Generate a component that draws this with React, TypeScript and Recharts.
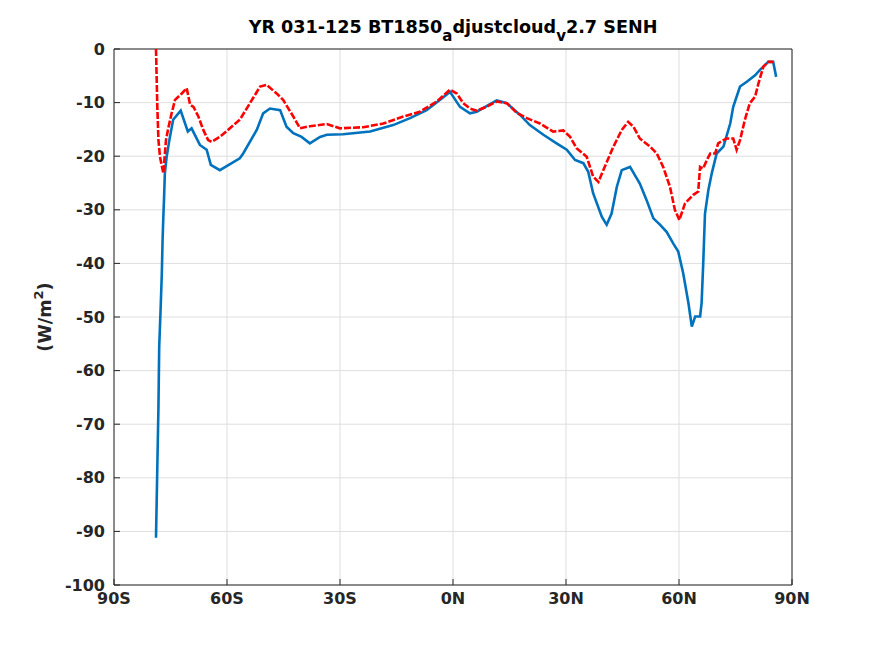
import { CartesianGrid, Line, LineChart, ReferenceLine, XAxis, YAxis } from "recharts";

// latitudes (deg, S negative) and values (W/m2)
const blueLat = [
  -78.85, -78.5, -78.2, -78.0, -77.6, -77.3, -77.1, -76.9, -76.7, -76.5, -76.0, -75.3, -74.3,
  -72.3, -70.4, -69.4, -67.2, -65.4, -64.3, -61.9, -56.6, -55.7, -52.1, -50.4, -48.6, -45.9,
  -44.2, -42.4, -40.2, -38.0, -35.3, -33.5, -29.2, -22.0, -15.9, -11.4, -7.0, -3.5, -0.8, 1.86,
  4.5, 6.3, 11.6, 14.3, 17.8, 20.4, 24.0, 27.5, 30.2, 32.4, 34.6, 35.9, 37.2, 39.5, 40.8, 42.1,
  43.5, 44.8, 47.0, 49.6, 51.4, 53.2, 55.0, 56.7, 58.5, 59.8, 61.1, 62.5, 63.4, 64.3, 65.6, 66.0,
  66.4, 66.9, 67.8, 68.7, 70.0, 71.8, 73.6, 74.4, 76.2, 78.0, 80.2, 81.5, 83.7, 85.0, 85.8,
];
const blueVal = [
  -91.2, -78, -66.8, -55.6, -48, -41.8, -35.6, -31.3, -27.6, -23.2, -20, -17, -13.2,
  -11.5, -15.4, -14.8, -17.9, -18.8, -21.6, -22.6, -20.4, -19.5, -15.1, -12.0, -11.1, -11.4,
  -14.5, -15.7, -16.4, -17.6, -16.4, -16.0, -15.9, -15.4, -14.2, -12.9, -11.4, -9.5, -8.0, -10.8,
  -12.0, -11.7, -9.6, -10.1, -12.3, -14.2, -16.0, -17.6, -18.8, -20.7, -21.3, -22.9, -26.9, -31.3, -32.8, -30.7,
  -25.7, -22.6, -22.0, -25.1, -28.2, -31.6, -32.8, -34.1, -36.3, -37.8, -41.8, -47.4, -51.8, -49.9, -49.9, -47.4,
  -40.6, -30.7, -26.3, -23.2, -19.5, -18.2, -13.9, -10.8, -7.0, -6.1, -4.9, -3.9, -2.4, -2.4, -5.2,
];

const redLat = [
  -78.85, -78.5, -78.2, -77.8, -76.9, -76.2, -75.6, -74.7, -73.8, -72.0, -70.7, -69.8, -68.9,
  -67.6, -66.3, -65.0, -64.1, -61.9, -56.6, -53.9, -51.2, -49.5, -46.8, -45.1, -42.4, -40.6,
  -38.0, -33.5, -30.0, -23.8, -18.5, -13.2, -8.8, -4.3, -0.8, 1.0, 2.7, 4.5, 6.3, 8.9, 11.6,
  14.3, 16.9, 19.6, 23.1, 26.6, 29.3, 31.1, 32.8, 35.5, 37.2, 38.6, 39.9, 42.6, 44.8, 46.5,
  47.9, 49.6, 52.3, 54.1, 55.8, 57.6, 58.9, 60.1, 61.6, 63.8, 65.1, 65.6, 66.4, 67.4, 68.3,
  69.6, 70.4, 71.8, 72.7, 74.4, 75.3, 76.2, 77.5, 78.8, 80.2, 81.1, 82.4, 83.7, 85.0,
];
const redVal = [
  0, -10.8, -17, -20.1, -23.2, -17, -14.8, -12.0, -9.5, -8.3, -7.3, -10.4, -10.8,
  -12.6, -15.1, -17.0, -17.3, -16.4, -13.2, -10.1, -7.0, -6.7, -8.3, -9.5, -12.6, -14.8,
  -14.4, -14.0, -14.8, -14.6, -13.9, -12.6, -11.7, -9.8, -7.6, -8.3, -10.1, -11.1, -11.5, -10.8, -9.8,
  -10.1, -11.9, -12.9, -13.9, -15.4, -15.2, -16.4, -18.5, -20.1, -23.8, -24.8, -22.6, -18.2, -15.1, -13.6,
  -14.5, -16.7, -18.2, -19.5, -22.0, -25.7, -30.0, -31.9, -28.8, -27.2, -26.6, -22.0, -22.3, -20.7, -19.5,
  -19.5, -17.6, -17.0, -16.7, -16.7, -18.8, -17.0, -13.2, -10.1, -8.9, -6.4, -3.3, -2.4, -2.4,
];

const xTicks = [-90, -60, -30, 0, 30, 60, 90];
const xTickLabels = ["90S", "60S", "30S", "0N", "30N", "60N", "90N"];
const yTicks = [0, -10, -20, -30, -40, -50, -60, -70, -80, -90, -100];

const blueData = blueLat.map((lat, i) => ({ lat, v: blueVal[i] }));
const redData = redLat.map((lat, i) => ({ lat, v: redVal[i] }));

const font = "'DejaVu Sans', sans-serif";
const ink = "#262626";
const tickStyle = { fill: ink, fontSize: 16, fontWeight: 700, fontFamily: font };
const subStyle = { fontSize: 15, verticalAlign: "baseline", position: "relative" as const, top: 8 };

export default function App() {
  return (
    <div style={{ position: "absolute", left: 0, top: 0, width: 875, height: 656, background: "#fff" }}>
      <LineChart
        width={875}
        height={656}
        margin={{ top: 49, right: 83, bottom: 41, left: 54 }}
      >
        <CartesianGrid stroke="#dedede" strokeWidth={1} />
        <XAxis
          type="number"
          dataKey="lat"
          domain={[-90, 90]}
          ticks={xTicks}
          allowDuplicatedCategory={false}
          tickFormatter={(v) => xTickLabels[xTicks.indexOf(Number(v))] ?? ""}
          height={30}
          stroke={ink}
          tickSize={-6}
          tickMargin={14}
          tick={tickStyle}
          interval={0}
        />
        <YAxis
          type="number"
          domain={[-100, 0]}
          ticks={yTicks}
          width={60}
          stroke={ink}
          tickSize={-6}
          tickMargin={15}
          tick={tickStyle}
          interval={0}
        />
        <ReferenceLine x={90} stroke={ink} strokeWidth={1} />
        <ReferenceLine y={0} stroke={ink} strokeWidth={1} />
        <Line
          data={blueData}
          dataKey="v"
          type="linear"
          stroke="#0072BD"
          strokeWidth={2.6}
          dot={false}
          isAnimationActive={false}
        />
        <Line
          data={redData}
          dataKey="v"
          type="linear"
          stroke="#FF0000"
          strokeWidth={2.6}
          strokeDasharray="7 2"
          dot={false}
          isAnimationActive={false}
        />
      </LineChart>
      <div
        style={{
          position: "absolute",
          left: 114,
          width: 678,
          top: 17,
          lineHeight: "20px",
          textAlign: "center",
          fontFamily: font,
          fontWeight: 700,
          fontSize: 17.6,
          color: "#000",
          whiteSpace: "nowrap",
        }}
      >
        YR 031-125 BT1850<span style={subStyle}>a</span>djustcloud<span style={subStyle}>v</span>2.7 SENH
      </div>
      <div
        style={{
          position: "absolute",
          left: 46,
          top: 317,
          lineHeight: "20px",
          transform: "translate(-50%, -50%) rotate(-90deg)",
          fontFamily: font,
          fontWeight: 700,
          fontSize: 17.6,
          color: ink,
          whiteSpace: "nowrap",
        }}
      >
        (W/m<span style={{ fontSize: 13, verticalAlign: "baseline", position: "relative", top: -8 }}>2</span>)
      </div>
    </div>
  );
}
